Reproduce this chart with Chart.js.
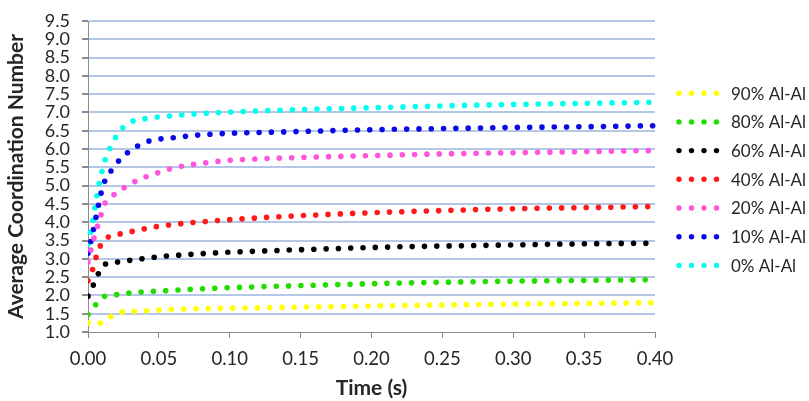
<!DOCTYPE html>
<html>
<head>
<meta charset="utf-8">
<script src="https://cdn.jsdelivr.net/npm/chart.js@4"></script>
<style>
  html, body { margin: 0; padding: 0; background: #ffffff; }
  #wrap { width: 809px; height: 401px; position: relative; }
</style>
</head>
<body>
<div id="wrap"><canvas id="c" width="809" height="401"></canvas></div>
<script>
// Time (s)
const times = [0, 0.003, 0.006, 0.009, 0.012, 0.016, 0.02, 0.025, 0.03, 0.04, 0.05, 0.06, 0.08, 0.10, 0.15, 0.20, 0.25, 0.30, 0.35, 0.40];

// Average coordination number per series
const al90 = [1.25, 1.24, 1.24, 1.25, 1.32, 1.42, 1.50, 1.55, 1.56, 1.58, 1.60, 1.62, 1.64, 1.65, 1.68, 1.71, 1.74, 1.76, 1.78, 1.80];
const al80 = [1.48, 1.62, 1.77, 1.90, 1.98, 2.00, 2.02, 2.04, 2.07, 2.10, 2.12, 2.14, 2.18, 2.21, 2.27, 2.32, 2.36, 2.39, 2.41, 2.43];
const al60 = [1.98, 2.22, 2.48, 2.72, 2.85, 2.89, 2.91, 2.94, 2.96, 3.01, 3.06, 3.09, 3.14, 3.18, 3.25, 3.31, 3.35, 3.38, 3.41, 3.43];
const al40 = [2.40, 2.68, 3.08, 3.38, 3.53, 3.63, 3.66, 3.70, 3.74, 3.82, 3.89, 3.94, 4.01, 4.07, 4.18, 4.26, 4.32, 4.37, 4.40, 4.43];
const al20 = [2.91, 3.40, 3.80, 4.18, 4.52, 4.68, 4.80, 4.93, 5.05, 5.23, 5.36, 5.48, 5.61, 5.69, 5.77, 5.82, 5.87, 5.90, 5.93, 5.96];
const al10 = [3.15, 3.65, 4.20, 4.76, 5.14, 5.39, 5.60, 5.81, 5.96, 6.18, 6.27, 6.31, 6.39, 6.43, 6.48, 6.53, 6.56, 6.59, 6.61, 6.64];
const al0  = [3.40, 3.95, 4.67, 5.25, 5.70, 6.07, 6.35, 6.60, 6.74, 6.83, 6.88, 6.91, 6.97, 7.01, 7.08, 7.13, 7.18, 7.22, 7.25, 7.28];

const seriesLabels = ['90% Al-Al', '80% Al-Al', '60% Al-Al', '40% Al-Al', '20% Al-Al', '10% Al-Al', '0% Al-Al'];
const seriesValues = [al90, al80, al60, al40, al20, al10, al0];
const seriesColors = ['#ffff00', '#22dd00', '#000000', '#ff1a1a', '#ff55dd', '#0a0ae6', '#00ffee'];

const FONT = 'Lato, "Open Sans", sans-serif';
const AXIS_GRAY = '#8c8c8c';
const GRID_BLUE = '#b4c7e7';
const TEXT = '#262626';

const datasets = seriesValues.map((vals, i) => ({
  label: seriesLabels[i],
  data: times.map((t, j) => ({ x: t, y: vals[j] })),
  borderColor: seriesColors[i],
  backgroundColor: seriesColors[i],
  borderWidth: 5.6,
  borderDash: [0, 12.3],
  borderCapStyle: 'round',
  pointRadius: 0,
  pointHoverRadius: 0,
  fill: false,
  cubicInterpolationMode: 'monotone',
  clip: { left: 0, top: 4, right: 4, bottom: 4 }
}));

const dotLegend = {
  id: 'dotLegend',
  afterDraw(chart) {
    const ctx = chart.ctx;
    const x0 = 679, dx = 12.5, yTop = 93.2, dy = 28.7;
    ctx.save();
    chart.data.datasets.forEach((ds, i) => {
      const y = yTop + i * dy;
      ctx.fillStyle = ds.borderColor;
      for (let k = 0; k < 4; k++) {
        ctx.beginPath();
        ctx.arc(x0 + k * dx, y, 2.7, 0, Math.PI * 2);
        ctx.fill();
      }
      ctx.fillStyle = TEXT;
      ctx.font = '17px ' + FONT;
      ctx.textBaseline = 'middle';
      ctx.textAlign = 'left';
      ctx.fillText(ds.label, 731, y + 1);
    });
    ctx.restore();
  }
};

new Chart(document.getElementById('c'), {
  type: 'line',
  data: { datasets },
  plugins: [dotLegend],
  options: {
    responsive: false,
    animation: false,
    events: [],
    layout: { padding: { top: 19, right: 154, bottom: 0, left: 0 } },
    plugins: { legend: { display: false }, tooltip: { enabled: false } },
    scales: {
      x: {
        type: 'linear',
        min: 0, max: 0.4,
        afterFit(scale) { scale.height = 69; },
        ticks: {
          stepSize: 0.05,
          autoSkip: false,
          maxRotation: 0,
          padding: 10,
          color: TEXT,
          font: { family: FONT, size: 18.5 },
          callback: v => Number(v).toFixed(2)
        },
        grid: { drawOnChartArea: false, color: AXIS_GRAY, tickLength: 6, lineWidth: 1 },
        border: { color: AXIS_GRAY, width: 1 },
        title: {
          display: true, text: 'Time (s)', color: TEXT,
          font: { family: FONT, size: 21, weight: 'bold' },
          padding: { top: 0, bottom: 0 }
        }
      },
      y: {
        min: 1, max: 9.5,
        afterFit(scale) { scale.width = 88; },
        ticks: {
          stepSize: 0.5,
          autoSkip: false,
          padding: 12,
          color: TEXT,
          font: { family: FONT, size: 18, lineHeight: 1 },
          callback: v => Number(v).toFixed(1)
        },
        grid: {
          color: c => (c.tick && c.tick.value === 1 ? 'rgba(0,0,0,0)' : GRID_BLUE),
          lineWidth: 2,
          tickColor: AXIS_GRAY,
          tickLength: 6
        },
        border: { color: AXIS_GRAY, width: 1 },
        title: {
          display: true, text: 'Average Coordination Number', color: TEXT,
          font: { family: FONT, size: 21, weight: 'bold' },
          padding: { top: 4, bottom: 0 }
        }
      }
    }
  }
});
</script>
</body>
</html>
